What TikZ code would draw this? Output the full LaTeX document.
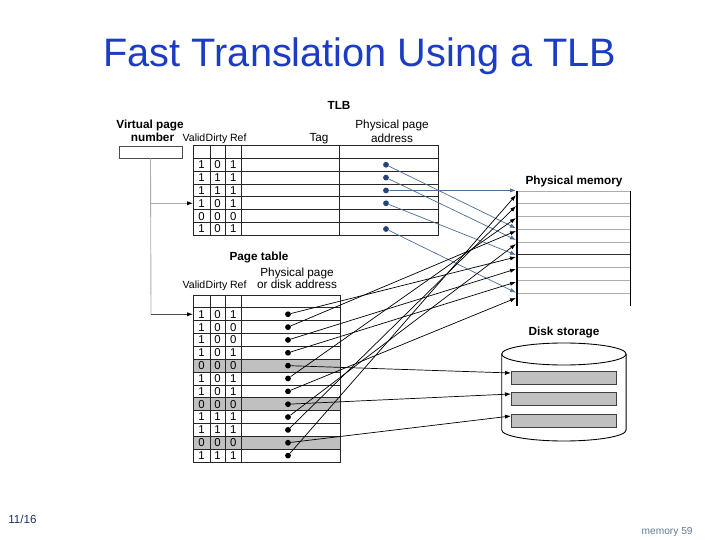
\documentclass[tikz,border=0pt]{standalone}
\usepackage{fontspec}
\setmainfont{Liberation Sans}
\usetikzlibrary{arrows.meta}

\definecolor{titleblue}{RGB}{28,60,198}
\definecolor{tlbblue}{RGB}{78,110,150}
\definecolor{dotblue}{RGB}{38,68,118}
\definecolor{rowgray}{RGB}{192,192,192}
\definecolor{linegray}{RGB}{172,172,172}
\definecolor{footblue}{RGB}{30,50,95}
\definecolor{pagegray}{RGB}{100,122,150}

\tikzset{
  title/.style={font=\fontsize{22.6}{26}\selectfont, text=titleblue, anchor=base, inner sep=0pt},
  hdr/.style={font=\fontsize{6.7}{8}\selectfont\bfseries, anchor=base, inner sep=0pt},
  lbl/.style={font=\fontsize{6.7}{8}\selectfont, anchor=base, inner sep=0pt},
  flag/.style={font=\fontsize{6}{7}\selectfont, anchor=base, inner sep=0pt},
  bit/.style={font=\fontsize{6.5}{7}\selectfont, inner sep=0pt},
  pdot/.style={circle, fill=black, inner sep=0pt, minimum size=3.3pt},
  tdot/.style={pdot, fill=dotblue},
  grid/.style={line width=0.5pt, draw=black!85},
  ptr/.style={-{Latex[length=3.4pt,width=2.4pt]}, line width=0.4pt},
  tptr/.style={ptr, draw=tlbblue},
  vline/.style={draw=linegray, line width=0.5pt},
  vptr/.style={vline, -{Latex[length=3.4pt,width=2.4pt,color=black]}},
  block/.style={draw=black!75, fill=rowgray, line width=0.5pt, minimum width=2.086cm, minimum height=0.26cm, inner sep=0pt},
}

\begin{document}
\begin{tikzpicture}[x=0.02cm, y=-0.02cm]
\useasboundingbox (0,0) rectangle (720,540);

\node[title] (title) at (360,67) {Fast Translation Using a TLB};

% TLB
\node[hdr] (tlb) at (339,110) {TLB};
\node[hdr] (vpn1) at (150,128.3) {Virtual page};
\node[hdr] (vpn2) at (152.5,141.7) {number};
\node[flag] (tvalid) at (194,142) {Valid};
\node[flag] (tdirty) at (216.5,142) {Dirty};
\node[flag] (tref) at (238.3,142) {Ref};
\node[lbl] (ttag) at (319,142) {Tag};
\node[lbl] (tpa1) at (392,128.3) {Physical page};
\node[lbl] (tpa2) at (392,142.3) {address};

\draw[grid] (193,145.5) rectangle (438.7,235.5);
\foreach \k in {1,...,6}
  \draw[grid] (193,{145.5+\k*12.85}) -- (438.7,{145.5+\k*12.85});
\foreach \c in {210,225,241.7,339.3}
  \draw[grid] (\c,145.5) -- (\c,235.5);
\foreach \r/\v/\d/\f in {1/1/0/1,2/1/1/1,3/1/1/1,4/1/0/1,5/0/0/0,6/1/0/1} {
  \node[bit] (tv\r) at (201.5,{151.9+\r*12.85}) {\v};
  \node[bit] (td\r) at (217.5,{151.9+\r*12.85}) {\d};
  \node[bit] (tf\r) at (233.4,{151.9+\r*12.85}) {\f};
}
\foreach \r in {1,2,3,4,6}
  \node[tdot] (tp\r) at (386,{151.9+\r*12.85}) {};

% virtual page number
\node[draw=black!70, line width=0.5pt, minimum width=1.26cm, minimum height=0.24cm, inner sep=0pt] (vpn) at (150.5,152) {};
\coordinate (vtlb) at (151,203.3);
\coordinate (vpt) at (151,314.3);
\coordinate (tlbin) at (193,203.3);
\coordinate (ptin) at (193,314.3);
\draw[vline] (vpn.south) -- (vpt);
\draw[vptr] (vtlb) -- (tlbin);
\draw[vptr, draw=black!70] (vpt) -- (ptin);

% page table
\node[hdr] (ptab) at (259,261) {Page table};
\node[lbl] (ppa1) at (297,276.7) {Physical page};
\node[lbl] (ppa2) at (297,288.3) {or disk address};
\node[flag] (pvalid) at (194,288.3) {Valid};
\node[flag] (pdirty) at (216.5,288.3) {Dirty};
\node[flag] (pref) at (238.3,288.3) {Ref};

\foreach \r in {5,8,11}
  \fill[rowgray] (193,{295+\r*12.85}) rectangle (340,{295+(\r+1)*12.85});
\draw[grid] (193,295) rectangle (340,462.05);
\foreach \k in {1,...,12}
  \draw[grid] (193,{295+\k*12.85}) -- (340,{295+\k*12.85});
\foreach \c in {210,225,241.7}
  \draw[grid] (\c,295) -- (\c,462.05);
\foreach \r/\v/\d/\f in {1/1/0/1,2/1/0/0,3/1/0/0,4/1/0/1,5/0/0/0,6/1/0/1,
                         7/1/0/1,8/0/0/0,9/1/1/1,10/1/1/1,11/0/0/0,12/1/1/1} {
  \node[bit] (pv\r) at (201.5,{301.4+\r*12.85}) {\v};
  \node[bit] (pd\r) at (217.5,{301.4+\r*12.85}) {\d};
  \node[bit] (pf\r) at (233.4,{301.4+\r*12.85}) {\f};
  \node[pdot] (pp\r) at (288,{301.4+\r*12.85}) {};
}

% physical memory
\node[hdr] (pmem) at (574,185) {Physical memory};
\foreach \k in {0,...,8}
  \draw[linegray, line width=0.5pt] (517,{191+\k*12.78}) -- (630.5,{191+\k*12.78});
\draw[black!80, line width=0.5pt] (517,254.9) -- (630.5,254.9);
\draw[line width=0.9pt] (517,191) -- (517,306);
\draw[line width=0.5pt] (630.5,191) -- (630.5,306);

% disk storage
\node[hdr] (disk) at (564,335.7) {Disk storage};
\draw[line width=0.5pt, fill=white] (501.7,354) -- (501.7,430)
  arc[start angle=180, end angle=0, x radius=62.2, y radius=11] -- (626.1,354);
\draw[line width=0.5pt, fill=white] (563.9,354) ellipse [x radius=62.2, y radius=11];
\node[block] (blk1) at (563.9,378) {};
\node[block] (blk2) at (563.9,399.3) {};
\node[block] (blk3) at (563.9,420.8) {};

% TLB pointers
\foreach \r/\y in {1/228.3,2/240,3/190.4,4/255,6/292.7} {
  \coordinate (mt\r) at (516,\y);
  \draw[tptr] (tp\r) -- (mt\r);
}

% page table pointers
\foreach \r/\y in {1/257,2/231,3/269,4/282,6/218,7/298,9/244,10/206,12/195} {
  \coordinate (mp\r) at (516,\y);
  \draw[ptr] (pp\r) -- (mp\r);
}
\foreach \r/\y in {5/373,8/394,11/416} {
  \coordinate (dk\r) at (511,\y);
  \draw[ptr] (pp\r) -- (dk\r);
}

% footer
\node[font=\fontsize{6.6}{8}\selectfont, text=footblue, anchor=base west, inner sep=0pt] (slide) at (8,523) {11/16};
\node[font=\fontsize{5.8}{7}\selectfont, text=pagegray, anchor=base east, inner sep=0pt] (pageno) at (693,534) {memory 59};
\end{tikzpicture}
\end{document}
